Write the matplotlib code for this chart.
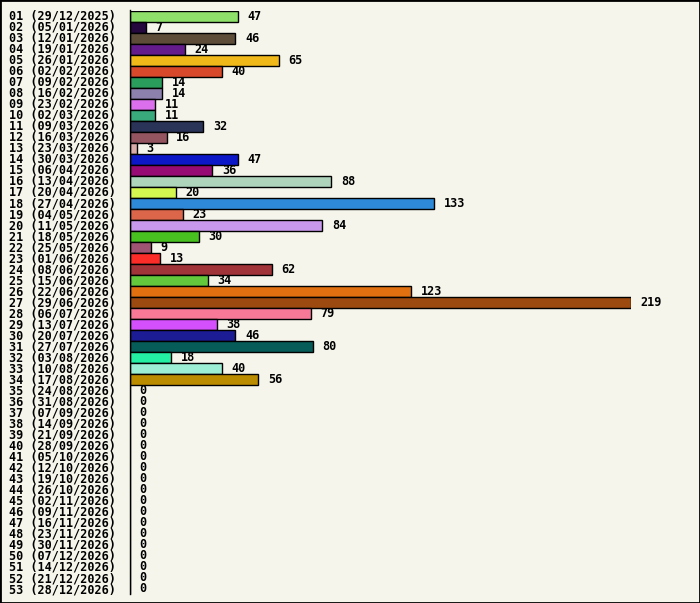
import matplotlib
matplotlib.use("Agg")
import matplotlib.pyplot as plt
from datetime import date, timedelta

values = [47, 7, 46, 24, 65, 40, 14, 14, 11, 11, 32, 16, 3, 47, 36, 88, 20, 133,
          23, 84, 30, 9, 13, 62, 34, 123, 219, 79, 38, 46, 80, 18, 40, 56] + [0] * 19
colors = ["#8ee06a", "#24083e", "#5c4c38", "#641c8c", "#f0b818", "#d8482a", "#2a9c5c",
          "#8c80ac", "#dc70ec", "#38aa7c", "#2a3458", "#945460", "#d8aaa8", "#0c18c8",
          "#960c74", "#aed4bc", "#d4f850", "#2e8ad8", "#dc664a", "#c898ec", "#48c020",
          "#a05474", "#fc2c28", "#a03438", "#64c83c", "#e07010", "#9c4a10", "#f87898",
          "#d450fc", "#1c1c94", "#065c58", "#24f0a4", "#9ceed4", "#bc8c00"] + ["#ffffff"] * 19
start = date(2025, 12, 29)
labels = [f"{i+1:02d} ({(start + timedelta(weeks=i)).strftime('%d/%m/%Y')})" for i in range(len(values))]

bg = "#f5f5eb"
fig = plt.figure(figsize=(7, 6.03), dpi=100, facecolor=bg)
fig.patches.append(plt.Rectangle((0, 0), 1, 1, transform=fig.transFigure,
                                 fill=False, edgecolor="black", lw=2))
ax = fig.add_axes([130 / 700, 8.5 / 603, 501 / 700, 584 / 603])
ax.set_facecolor(bg)
n = len(values)
ypos = list(range(n))
ax.barh(ypos, values, height=1.0, color=colors, edgecolor="black", linewidth=1)
ax.set_xlim(0, 219)
ax.set_ylim(n - 0.5, -0.5)
font = dict(family="DejaVu Sans Mono", fontweight="bold", fontsize=8.5)
for y, v, lab in zip(ypos, values, labels):
    ax.annotate(str(v), (v, y), xytext=(7, 0), textcoords="offset points",
                va="center", ha="left", **font)
    fig.text(9 / 700, 1 - (16 + y * 11.03) / 603, lab, va="center", ha="left", **font)
for s in ["top", "right", "bottom"]:
    ax.spines[s].set_visible(False)
ax.spines["left"].set_linewidth(1)
ax.set_xticks([])
ax.set_yticks([])
fig.savefig("out.png", dpi=100, facecolor=bg)
